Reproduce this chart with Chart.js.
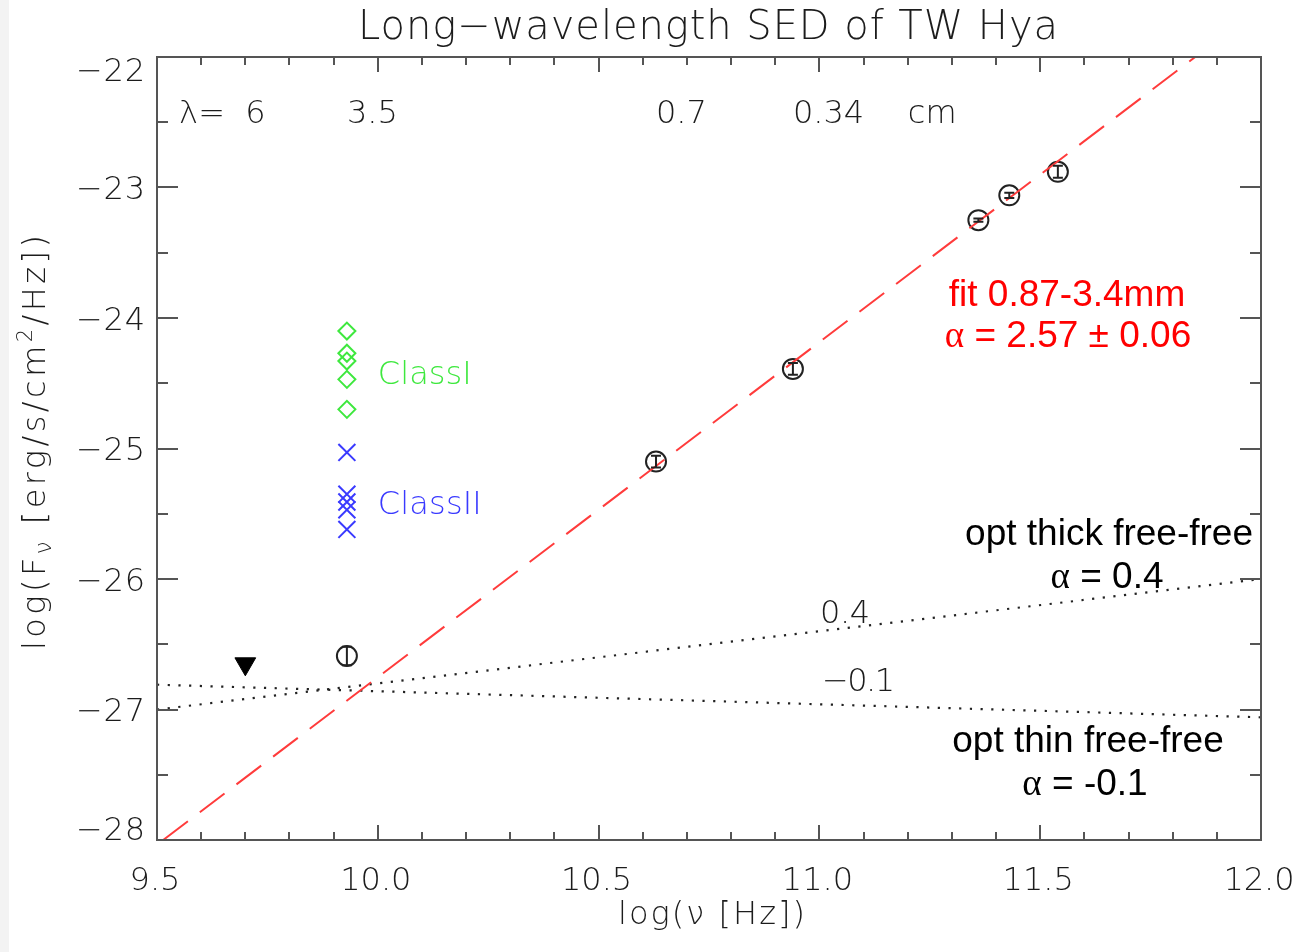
<!DOCTYPE html>
<html>
<head>
<meta charset="utf-8">
<title>Long-wavelength SED of TW Hya</title>
<script src="https://cdn.jsdelivr.net/npm/chart.js@4.4.1/dist/chart.umd.min.js"></script>
<style>
  html, body { margin: 0; padding: 0; background: #fff; }
  body { width: 1301px; height: 952px; position: relative; overflow: hidden; }
  #edge { position: absolute; left: 0; top: 0; width: 9px; height: 952px; background: #f3f3f3; }
  #sed { position: absolute; left: 0; top: 0; }
</style>
</head>
<body>
<div id="edge"></div>
<canvas id="sed" width="1301" height="952"></canvas>
<script>
/* axes */
const xTickValues = [9.5, 10.0, 10.5, 11.0, 11.5, 12.0];
const xTickLabels = ['9.5', '10.0', '10.5', '11.0', '11.5', '12.0'];
const yTickValues = [-22, -23, -24, -25, -26, -27, -28];
const yTickLabels = ['−22', '−23', '−24', '−25', '−26', '−27', '−28'];

/* TW Hya fluxes: log(nu), log(F_nu), 1-sigma */
const twhyaLogNu = [9.93, 10.63, 10.94, 11.36, 11.43, 11.54];
const twhyaLogF  = [-26.59, -25.10, -24.39, -23.25, -23.06, -22.88];
const twhyaErr   = [0.07, 0.045, 0.045, 0.012, 0.02, 0.046];

/* 6 cm upper limit */
const limitLogNu = [9.70];
const limitLogF  = [-26.65];

/* comparison YSOs at 3.5 cm */
const classILogNu  = [9.93, 9.93, 9.93, 9.93, 9.93];
const classILogF   = [-24.10, -24.27, -24.33, -24.47, -24.70];
const classIILogNu = [9.93, 9.93, 9.93, 9.93, 9.93];
const classIILogF  = [-25.03, -25.35, -25.41, -25.47, -25.62];

/* power law fit 0.87-3.4mm and free-free slopes */
const fitLogNu   = [9.514, 11.851];
const fitLogF    = [-28.0, -22.0];
const thickLogNu = [9.5, 12.0];
const thickLogF  = [-27.0, -26.0];
const thinLogNu  = [9.5, 12.0];
const thinLogF   = [-26.81, -27.06];

/* wavelength row along the top */
const lambdaLogNu  = [9.70, 9.93, 10.63, 10.94];
const lambdaLabels = ['6', '3.5', '0.7', '0.34'];

const pts = (xs, ys) => xs.map((v, i) => ({ x: v, y: ys[i] }));

const IDL_FONT = '"DejaVu Sans", sans-serif';
const IDL_INK = '#1c1c1c';

// draw a list of runs {t, font, dy} starting at x0, optionally spread to a width
function drawRuns(ctx, runs, x0, base, width) {
    ctx.textAlign = 'left';
    ctx.textBaseline = 'alphabetic';
    ctx.letterSpacing = '0px';
    let natural = 0, chars = 0;
    runs.forEach(r => { ctx.font = r.font; natural += ctx.measureText(r.t).width; chars += [...r.t].length; });
    const ls = width ? (width - natural) / Math.max(chars - 1, 1) : 0;
    let xx = x0;
    runs.forEach(r => {
        ctx.font = r.font;
        ctx.letterSpacing = ls + 'px';
        ctx.fillStyle = r.color || ctx.fillStyle;
        ctx.fillText(r.t, xx, base + (r.dy || 0));
        ctx.letterSpacing = '0px';
        xx += ctx.measureText(r.t).width + ls * [...r.t].length;
    });
    ctx.letterSpacing = '0px';
    return xx - x0;
}

function runsWidth(ctx, runs) {
    ctx.letterSpacing = '0px';
    return runs.reduce((w, r) => { ctx.font = r.font; return w + ctx.measureText(r.t).width; }, 0);
}

function idl(size) { return `200 ${size}px ${IDL_FONT}`; }

const idlFrame = {
    id: 'idlFrame',
    afterDatasetsDraw(chart) {
        const { ctx, chartArea: a, scales: { x, y } } = chart;
        ctx.save();
        // error bars on the TW Hya points
        ctx.strokeStyle = '#222';
        ctx.lineWidth = 2;
        ctx.beginPath();
        twhyaLogNu.forEach((nu, i) => {
            const px = x.getPixelForValue(nu);
            const hi = y.getPixelForValue(twhyaLogF[i] + twhyaErr[i]);
            const lo = y.getPixelForValue(twhyaLogF[i] - twhyaErr[i]);
            ctx.moveTo(px, hi); ctx.lineTo(px, lo);
            ctx.moveTo(px - 5, hi); ctx.lineTo(px + 5, hi);
            ctx.moveTo(px - 5, lo); ctx.lineTo(px + 5, lo);
        });
        ctx.stroke();

        // box + inward ticks on every side
        ctx.strokeStyle = '#555';
        ctx.lineWidth = 2;
        ctx.strokeRect(a.left, a.top, a.right - a.left, a.bottom - a.top);
        ctx.beginPath();
        for (let v = 9.5; v <= 12.0001; v += 0.1) {
            const px = Math.round(x.getPixelForValue(v));
            const major = Math.abs(v * 2 - Math.round(v * 2)) < 1e-6;
            const len = major ? 15 : 8;
            ctx.moveTo(px, a.bottom); ctx.lineTo(px, a.bottom - len);
            ctx.moveTo(px, a.top); ctx.lineTo(px, a.top + len);
        }
        for (let v = -28; v <= -21.999; v += 0.5) {
            const py = Math.round(y.getPixelForValue(v));
            const len = Number.isInteger(v) ? 21 : 11;
            ctx.moveTo(a.left, py); ctx.lineTo(a.left + len, py);
            ctx.moveTo(a.right, py); ctx.lineTo(a.right - len, py);
        }
        ctx.stroke();
        ctx.restore();
    },
    afterDraw(chart) {
        const { ctx, chartArea: a, scales: { x, y } } = chart;
        ctx.save();
        ctx.fillStyle = IDL_INK;

        // title
        drawRuns(ctx, [{ t: 'Long−wavelength SED of TW Hya', font: idl(40) }], 358, 39, 700);

        // y tick labels, end labels kept inside the box height
        yTickValues.forEach((v, i) => {
            let cy = y.getPixelForValue(v);
            cy = Math.min(Math.max(cy, a.top + 12), a.bottom - 12);
            drawRuns(ctx, [{ t: yTickLabels[i], font: idl(32) }], 76, cy + 11.5, 69);
        });
        // x tick labels
        ctx.font = idl(32);
        xTickValues.forEach((v, i) => {
            ctx.textAlign = 'center';
            ctx.fillText(xTickLabels[i], x.getPixelForValue(v) - 2, 890);
        });

        // x title
        drawRuns(ctx, [{ t: 'log(ν [Hz])', font: idl(32) }], 618, 924, 187);

        // y title, rotated
        ctx.save();
        ctx.translate(45, 650);
        ctx.rotate(-Math.PI / 2);
        drawRuns(ctx, [
            { t: 'log(F', font: idl(32) },
            { t: 'ν', font: idl(23), dy: 6 },
            { t: ' [erg/s/cm', font: idl(32) },
            { t: '2', font: idl(21), dy: -13 },
            { t: '/Hz])', font: idl(32) }
        ], 0, 0, 415);
        ctx.restore();

        // wavelength row
        ctx.fillStyle = IDL_INK;
        drawRuns(ctx, [{ t: 'λ=', font: idl(32) }], 179, 123, 46);
        lambdaLogNu.forEach((nu, i) => {
            drawRuns(ctx, [{ t: lambdaLabels[i], font: idl(32) }], x.getPixelForValue(nu), 123);
        });
        drawRuns(ctx, [{ t: 'cm', font: idl(32) }], x.getPixelForValue(11.2), 123, 49);

        // class labels
        drawRuns(ctx, [{ t: 'ClassI', font: idl(32), color: '#3ee83e' }], x.getPixelForValue(10.0), y.getPixelForValue(-24.42) + 11.5, 94);
        drawRuns(ctx, [{ t: 'ClassII', font: idl(32), color: '#3a3aff' }], x.getPixelForValue(10.0), y.getPixelForValue(-25.41) + 11.5, 104);

        // slope labels next to the dotted lines
        ctx.fillStyle = IDL_INK;
        drawRuns(ctx, [{ t: '0.4', font: idl(32) }], 820, 623, 50);
        drawRuns(ctx, [{ t: '−0.1', font: idl(32) }], 822, 691, 73);

        // annotations
        const sans = '37px "Liberation Sans", Arial, sans-serif';
        const serif = '37px "Liberation Serif", "Times New Roman", serif';
        const centered = (runs, cx, base) => {
            const w = runsWidth(ctx, runs);
            drawRuns(ctx, runs, cx - w / 2, base);
        };
        ctx.fillStyle = '#ff0000';
        centered([{ t: 'fit 0.87-3.4mm', font: sans }], 1067, 306);
        centered([{ t: 'α', font: serif }, { t: ' = 2.57 ± 0.06', font: sans }], 1068, 347);

        ctx.fillStyle = '#000';
        const thickRuns = [{ t: 'opt thick free-free', font: sans }];
        drawRuns(ctx, thickRuns, 1253 - runsWidth(ctx, thickRuns), 545);
        centered([{ t: 'α', font: serif }, { t: ' = 0.4', font: sans }], 1107, 588);
        centered([{ t: 'opt thin free-free', font: sans }], 1088, 752);
        centered([{ t: 'α', font: serif }, { t: ' = -0.1', font: sans }], 1085, 795);

        ctx.restore();
    }
};

new Chart(document.getElementById('sed'), {
    type: 'scatter',
    data: {
        datasets: [
            {
                label: 'fit', data: pts(fitLogNu, fitLogF), showLine: true,
                borderColor: '#ff3b3b', borderWidth: 2, borderDash: [31, 15],
                pointRadius: 0
            },
            {
                label: 'thick', data: pts(thickLogNu, thickLogF), showLine: true,
                borderColor: '#222', borderWidth: 2.2, borderDash: [2.2, 8.5],
                pointRadius: 0
            },
            {
                label: 'thin', data: pts(thinLogNu, thinLogF), showLine: true,
                borderColor: '#222', borderWidth: 2.2, borderDash: [2.2, 8.5],
                pointRadius: 0
            },
            {
                label: 'TW Hya', data: pts(twhyaLogNu, twhyaLogF),
                pointStyle: 'circle', pointRadius: 10,
                borderColor: '#222', borderWidth: 2, backgroundColor: 'transparent'
            },
            {
                label: 'limit', data: pts(limitLogNu, limitLogF),
                pointStyle: 'triangle', rotation: 180, pointRadius: 12,
                borderColor: '#000', borderWidth: 1, backgroundColor: '#000'
            },
            {
                label: 'ClassI', data: pts(classILogNu, classILogF),
                pointStyle: 'rectRot', pointRadius: 8.5,
                borderColor: '#3ee83e', borderWidth: 2, backgroundColor: 'transparent'
            },
            {
                label: 'ClassII', data: pts(classIILogNu, classIILogF),
                pointStyle: 'crossRot', pointRadius: 12,
                borderColor: '#3a3aff', borderWidth: 2
            }
        ]
    },
    options: {
        responsive: false,
        animation: false,
        devicePixelRatio: 1,
        layout: { padding: { left: 157, right: 40, top: 57, bottom: 112 } },
        scales: {
            x: { type: 'linear', min: 9.5, max: 12.0, display: false },
            y: { type: 'linear', min: -28, max: -22, display: false }
        },
        plugins: { legend: { display: false }, tooltip: { enabled: false } }
    },
    plugins: [idlFrame]
});
</script>
</body>
</html>
